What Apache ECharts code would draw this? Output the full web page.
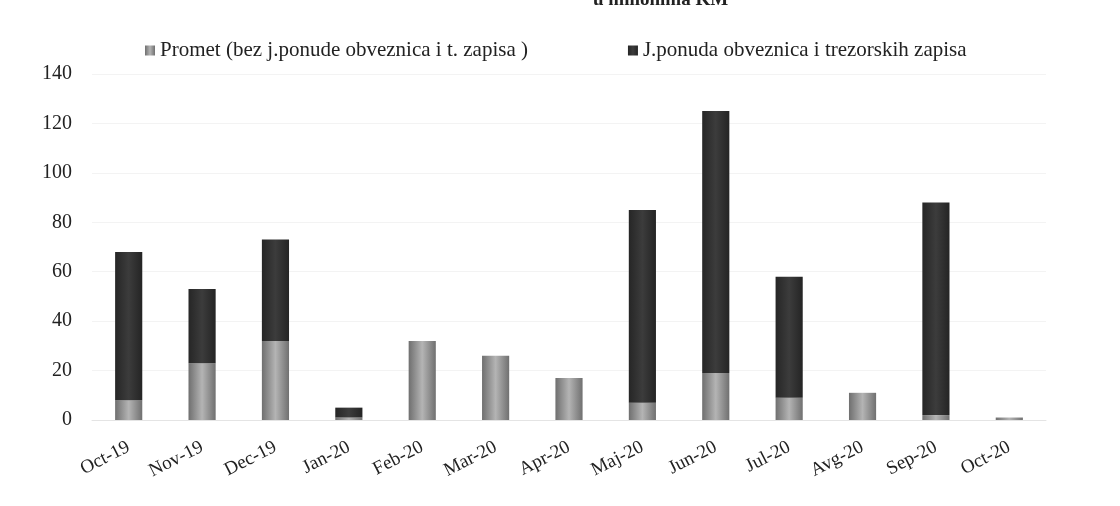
<!DOCTYPE html>
<html>
<head>
<meta charset="utf-8">
<script src="https://cdn.jsdelivr.net/npm/echarts@6/dist/echarts.min.js"></script>
<style>html,body{margin:0;padding:0;background:#fff;}#c{width:1120px;height:506px;}</style>
</head>
<body>
<div id="c"></div>
<script>
const categories = ['Oct-19','Nov-19','Dec-19','Jan-20','Feb-20','Mar-20','Apr-20','Maj-20','Jun-20','Jul-20','Avg-20','Sep-20','Oct-20'];
const prometValues = [8, 23, 32, 1, 32, 26, 17, 7, 19, 9, 11, 2, 1];
const ponudaValues = [60, 30, 41, 4, 0, 0, 0, 78, 106, 49, 0, 86, 0];
const seriesNames = ['Promet (bez j.ponude obveznica i t. zapisa )', 'J.ponuda obveznica i trezorskih zapisa'];
const yTicks = [0, 20, 40, 60, 80, 100, 120, 140];

const font = '"Liberation Serif", "DejaVu Serif", serif';
const chart = echarts.init(document.getElementById('c'));
chart.setOption({
  backgroundColor: '#ffffff',
  animation: false,
  title: {
    text: 'u milionima KM',
    left: 588, top: -14,
    textStyle: { fontFamily: font, fontSize: 19, fontWeight: 'bold', color: '#222' }
  },
  legend: {
    top: 35, left: 140,
    itemGap: 100,
    itemWidth: 10, itemHeight: 10,
    icon: 'rect',
    textStyle: { fontFamily: font, fontSize: 21, color: '#222' },
    data: seriesNames
  },
  grid: { left: 92, right: 74, top: 74, bottom: 86, containLabel: false },
  xAxis: {
    type: 'category',
    data: categories,
    axisLine: { show: true, lineStyle: { color: '#e4e4e4' } },
    axisTick: { show: false },
    axisLabel: { rotate: 27, fontFamily: font, fontSize: 19, color: '#222', margin: 26 }
  },
  yAxis: {
    type: 'value',
    min: yTicks[0], max: yTicks[yTicks.length - 1], interval: 20,
    axisLine: { show: false },
    axisTick: { show: false },
    splitLine: { show: true, lineStyle: { color: '#f3f3f3' } },
    axisLabel: { fontFamily: font, fontSize: 20, color: '#222', margin: 20 }
  },
  series: [
    {
      name: seriesNames[0], type: 'bar', stack: 'total', barWidth: '37%',
      data: prometValues,
      itemStyle: {
        color: new echarts.graphic.LinearGradient(0, 0, 1, 0, [
          { offset: 0, color: '#6f6f6f' },
          { offset: 0.5, color: '#b4b4b4' },
          { offset: 1, color: '#707070' }
        ])
      }
    },
    {
      name: seriesNames[1], type: 'bar', stack: 'total', barWidth: '37%',
      data: ponudaValues,
      itemStyle: {
        color: new echarts.graphic.LinearGradient(0, 0, 1, 0, [
          { offset: 0, color: '#262626' },
          { offset: 0.5, color: '#3c3c3c' },
          { offset: 1, color: '#242424' }
        ])
      }
    }
  ]
});
</script>
</body>
</html>
